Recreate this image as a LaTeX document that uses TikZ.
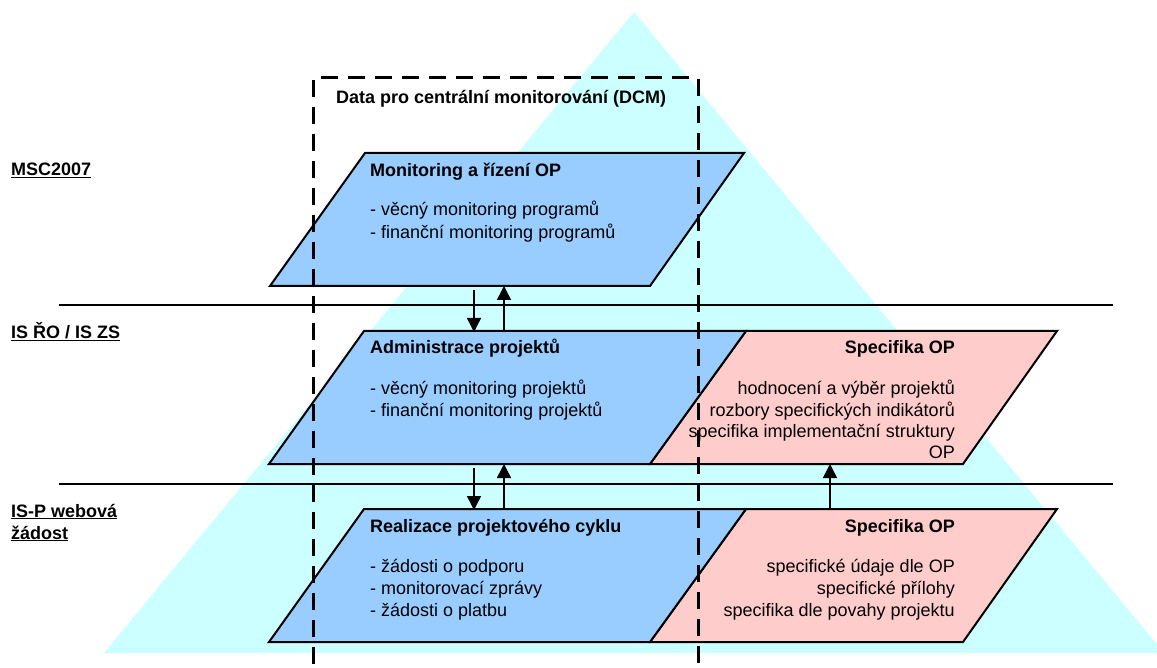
\documentclass[tikz,border=0pt]{standalone}
\usepackage{fontspec}
\setmainfont{Liberation Sans}
\usetikzlibrary{arrows.meta}
\definecolor{cyanbg}{HTML}{CCFFFF}
\definecolor{bluebox}{HTML}{99CCFF}
\definecolor{pinkbox}{HTML}{FFCCCC}
\tikzset{
 txt/.style={inner sep=0pt, font=\fontsize{18}{21}\selectfont},
 txtb/.style={inner sep=0pt, font=\fontsize{18}{21}\selectfont\bfseries},
 bl/.style={txt, anchor=base west},
 br/.style={txt, anchor=base east},
 bbl/.style={txtb, anchor=base west},
 bbr/.style={txtb, anchor=base east},
 bx/.style={draw=black, line width=2pt, line join=miter},
 sepline/.style={line width=1.6pt},
 dcm/.style={line width=3pt, dash pattern=on 17pt off 10pt},
 arr/.style={line width=1.5pt, -{Triangle[length=14pt,width=14pt]}},
}
\begin{document}
\begin{tikzpicture}[x=1pt,y=-1pt]
\useasboundingbox (0,0) rectangle (1157,668);
% background pyramid
\fill[cyanbg] (634,12) -- (1164,653) -- (104,653) -- cycle;
% separators
\coordinate (s1a) at (59,305); \coordinate (s1b) at (1113,305);
\coordinate (s2a) at (59,484); \coordinate (s2b) at (1113,484);
\draw[sepline] (s1a) -- (s1b);
\draw[sepline] (s2a) -- (s2b);
% level 1
\draw[bx, fill=bluebox] (365,153) -- (744,153) -- (650,286) -- (270,286) -- cycle;
% level 2
\draw[bx, fill=pinkbox] (746,331) -- (1057,331) -- (963,464) -- (650,464) -- cycle;
\draw[bx, fill=bluebox] (364,331) -- (746,331) -- (650,464) -- (269,464) -- cycle;
% level 3
\draw[bx, fill=pinkbox] (746,509) -- (1057,509) -- (963,642) -- (650,642) -- cycle;
\draw[bx, fill=bluebox] (364,509) -- (746,509) -- (650,642) -- (269,642) -- cycle;
% DCM frame
\coordinate (d1) at (313,664); \coordinate (d2) at (313,78);
\coordinate (d3) at (698,78); \coordinate (d4) at (698,664);
\draw[dcm] (d1) -- (d2) -- (d3) -- (d4);
\node[bbl] (dcmt) at (336,104) {Data pro centrální monitorování (DCM)};
% left labels
\node[bbl] (lab1) at (11,176) {\underline{MSC2007}};
\node[bbl] (lab2) at (11,338) {\underline{IS ŘO / IS ZS}};
\node[bbl] (lab3a) at (11,517) {\underline{IS-P webová}};
\node[bbl] (lab3b) at (11,539) {\underline{žádost}};
% texts level 1
\node[bbl] (t1) at (370,177) {Monitoring a řízení OP};
\node[bl] (t1a) at (370,216) {- věcný monitoring programů};
\node[bl] (t1b) at (370,239) {- finanční monitoring programů};
% texts level 2
\node[bbl] (t2) at (370,353) {Administrace projektů};
\node[bl] (t2a) at (370,394) {- věcný monitoring projektů};
\node[bl] (t2b) at (370,416) {- finanční monitoring projektů};
\node[bbr] (p2) at (955,353) {Specifika OP};
\node[br] (p2a) at (955,394) {hodnocení a výběr projektů};
\node[br] (p2b) at (955,416) {rozbory specifických indikátorů};
\node[br] (p2c) at (955,437) {specifika implementační struktury};
\node[br] (p2d) at (955,458) {OP};
% texts level 3
\node[bbl] (t3) at (370,532) {Realizace projektového cyklu};
\node[bl] (t3a) at (370,572) {- žádosti o podporu};
\node[bl] (t3b) at (370,594) {- monitorovací zprávy};
\node[bl] (t3c) at (370,616) {- žádosti o platbu};
\node[bbr] (p3) at (955,532) {Specifika OP};
\node[br] (p3a) at (955,572) {specifické údaje dle OP};
\node[br] (p3b) at (955,594) {specifické přílohy};
\node[br] (p3c) at (955,616) {specifika dle povahy projektu};
% arrows
\coordinate (a1s) at (474,290); \coordinate (a1e) at (474,332);
\coordinate (a2s) at (504,331); \coordinate (a2e) at (504,286);
\coordinate (a3s) at (474,468); \coordinate (a3e) at (474,510);
\coordinate (a4s) at (504,509); \coordinate (a4e) at (504,464);
\coordinate (a5s) at (830,509); \coordinate (a5e) at (830,464);
\draw[arr] (a1s) -- (a1e);
\draw[arr] (a2s) -- (a2e);
\draw[arr] (a3s) -- (a3e);
\draw[arr] (a4s) -- (a4e);
\draw[arr] (a5s) -- (a5e);
\end{tikzpicture}
\end{document}
